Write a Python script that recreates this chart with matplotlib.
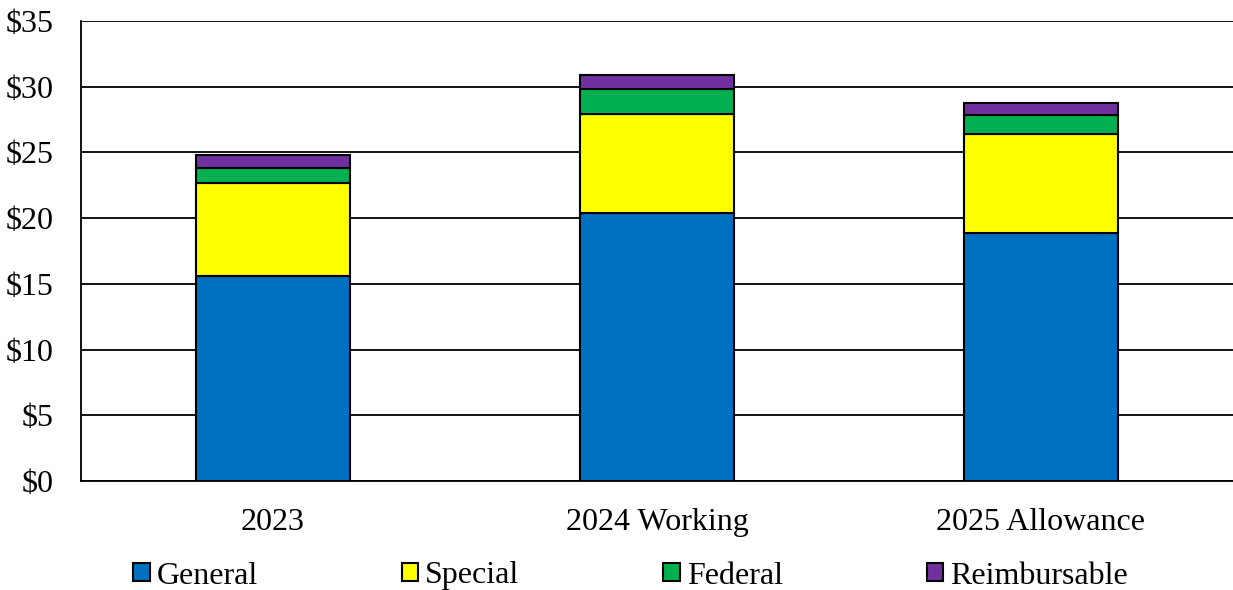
import matplotlib
matplotlib.use("Agg")
import matplotlib.pyplot as plt
from matplotlib.patches import Patch

plt.rcParams['font.family'] = ['Liberation Serif', 'DejaVu Serif']

categories = ["2023", "2024 Working", "2025 Allowance"]
general = [15.60, 20.41, 18.85]
special = [7.07, 7.49, 7.53]
federal = [1.17, 1.90, 1.49]
reimbursable = [0.96, 1.09, 0.87]
series_names = ["General", "Special", "Federal", "Reimbursable"]
colors = ["#0070C0", "#FFFF00", "#00B050", "#7030A0"]
yticks = [0, 5, 10, 15, 20, 25, 30, 35]
ytick_labels = ["$0", "$5", "$10", "$15", "$20", "$25", "$30", "$35"]

fig = plt.figure(figsize=(12.33, 5.90), dpi=100)
ax = fig.add_axes([81/1233, 1 - 481/590, 1152/1233, 460/590])

x = list(range(len(categories)))
bottom = [0.0] * len(categories)
for vals, c in zip([general, special, federal, reimbursable], colors):
    ax.bar(x, vals, width=0.4, bottom=bottom, color=c, edgecolor="black",
           linewidth=1.5, zorder=3)
    bottom = [b + v for b, v in zip(bottom, vals)]

ax.set_xlim(-0.5, 2.5)
ax.set_ylim(0, 35)
ax.set_yticks(yticks)
ax.set_yticklabels(ytick_labels, fontsize=23)
ax.set_xticks(x)
ax.set_xticklabels(categories, fontsize=23)
ax.yaxis.grid(True, color="black", linewidth=1.3, zorder=0)
ax.set_axisbelow(True)
for s in ["top", "right"]:
    ax.spines[s].set_visible(False)
for s in ["left", "bottom"]:
    ax.spines[s].set_linewidth(1.3)
ax.tick_params(axis="both", length=0)
ax.tick_params(axis="y", pad=19.5)
ax.tick_params(axis="x", pad=19.5)

handles = [Patch(facecolor=c, edgecolor="black", linewidth=1.5) for c in colors]
fig.legend(handles=handles, labels=series_names, loc="center left", ncol=4,
           bbox_to_anchor=(133 / 1233, 1 - 576 / 590), frameon=False,
           fontsize=23, handlelength=0.52, handleheight=0.52,
           handletextpad=0.22, columnspacing=4.5,
           borderaxespad=0, borderpad=0)

fig.savefig("out.png", dpi=100)
